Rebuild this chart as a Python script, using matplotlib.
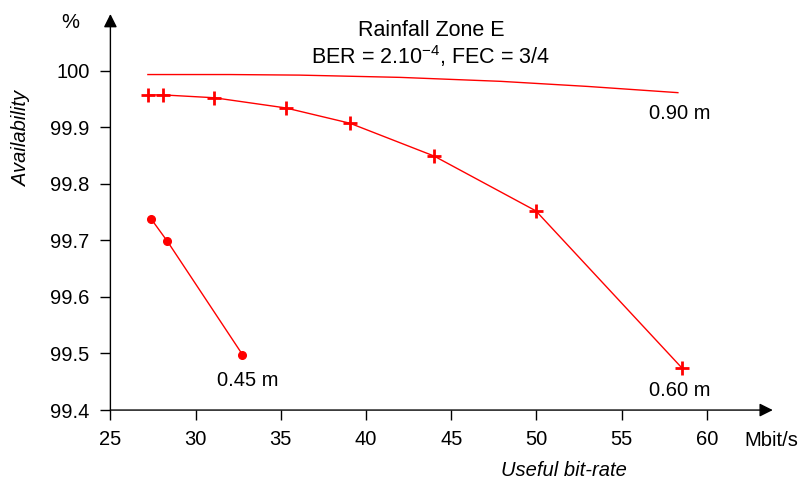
import matplotlib
matplotlib.use("Agg")
import matplotlib.pyplot as plt

plt.rcParams['font.family'] = ['Liberation Sans', 'DejaVu Sans']

# Data
x_090 = [27.2, 32.0, 36.1, 42.0, 47.9, 53.0, 58.3]
y_090 = [99.993, 99.993, 99.992, 99.988, 99.981, 99.972, 99.961]

x_060 = [27.21, 28.09, 31.09, 35.29, 39.05, 43.99, 49.97, 58.55]
y_060 = [99.957, 99.957, 99.952, 99.934, 99.907, 99.849, 99.752, 99.474]

x_045 = [27.41, 28.35, 32.75]
y_045 = [99.737, 99.698, 99.498]

xticks = [25, 30, 35, 40, 45, 50, 55, 60]
yticks = [99.4, 99.5, 99.6, 99.7, 99.8, 99.9, 100.0]
ytick_labels = ["99.4", "99.5", "99.6", "99.7", "99.8", "99.9", "100"]

fig = plt.figure(figsize=(8, 4.83), dpi=100)
ax = fig.add_axes([0.138, 0.151, 0.828, 0.820])
ax.set_xlim(25, 63.87)
ax.set_ylim(99.4, 100.1)

red = '#ff0000'
ax.plot(x_090, y_090, color=red, lw=1.0)
ax.plot(x_060, y_060, color=red, lw=1.0, marker='+', ms=10, mew=2.0)
ax.plot(x_045, y_045, color=red, lw=1.0, marker='o', ms=5.5)

for s in ax.spines.values():
    s.set_visible(False)

# Axes with arrows
ax.annotate('', xy=(1, 0), xytext=(0, 0), xycoords='axes fraction',
            arrowprops=dict(arrowstyle='-|>', color='black', lw=1.0,
                            mutation_scale=20, shrinkA=0, shrinkB=0))
ax.annotate('', xy=(0, 1), xytext=(0, 0), xycoords='axes fraction',
            arrowprops=dict(arrowstyle='-|>', color='black', lw=1.0,
                            mutation_scale=20, shrinkA=0, shrinkB=0))

ax.set_xticks(xticks)
ax.set_xticklabels([str(t) for t in xticks])
ax.set_yticks(yticks)
ax.set_yticklabels(ytick_labels)
ax.tick_params(axis='both', direction='out', length=7, width=1.0,
               labelsize=14.5, colors='black')
ax.tick_params(axis='x', pad=7)
ax.tick_params(axis='y', pad=8)

# Labels
fig.text(22 / 800, 1 - 138 / 483, 'Availability', rotation=90, style='italic',
         fontsize=14.5, ha='center', va='center')
fig.text(70 / 800, 1 - 22 / 483, '%', fontsize=14.5, ha='center', va='center')
fig.text(771 / 800, 1 - 440 / 483, 'Mbit/s', fontsize=14.5, ha='center', va='center')
fig.text(564 / 800, 1 - 470 / 483, 'Useful bit-rate', style='italic',
         fontsize=14.5, ha='center', va='center')

fig.text(431 / 800, 1 - 30 / 483, 'Rainfall Zone E', fontsize=15.5,
         ha='center', va='center')
fig.text(431 / 800, 1 - 56 / 483, r'BER = 2.10$^{\mathregular{-4}}$, FEC = 3/4',
         fontsize=15.5, ha='center', va='center')

ax.text(58.43, 99.925, '0.90 m', fontsize=14.5, ha='center', va='center')
ax.text(58.43, 99.435, '0.60 m', fontsize=14.5, ha='center', va='center')
ax.text(33.07, 99.453, '0.45 m', fontsize=14.5, ha='center', va='center')

fig.savefig('out.png', dpi=100)
